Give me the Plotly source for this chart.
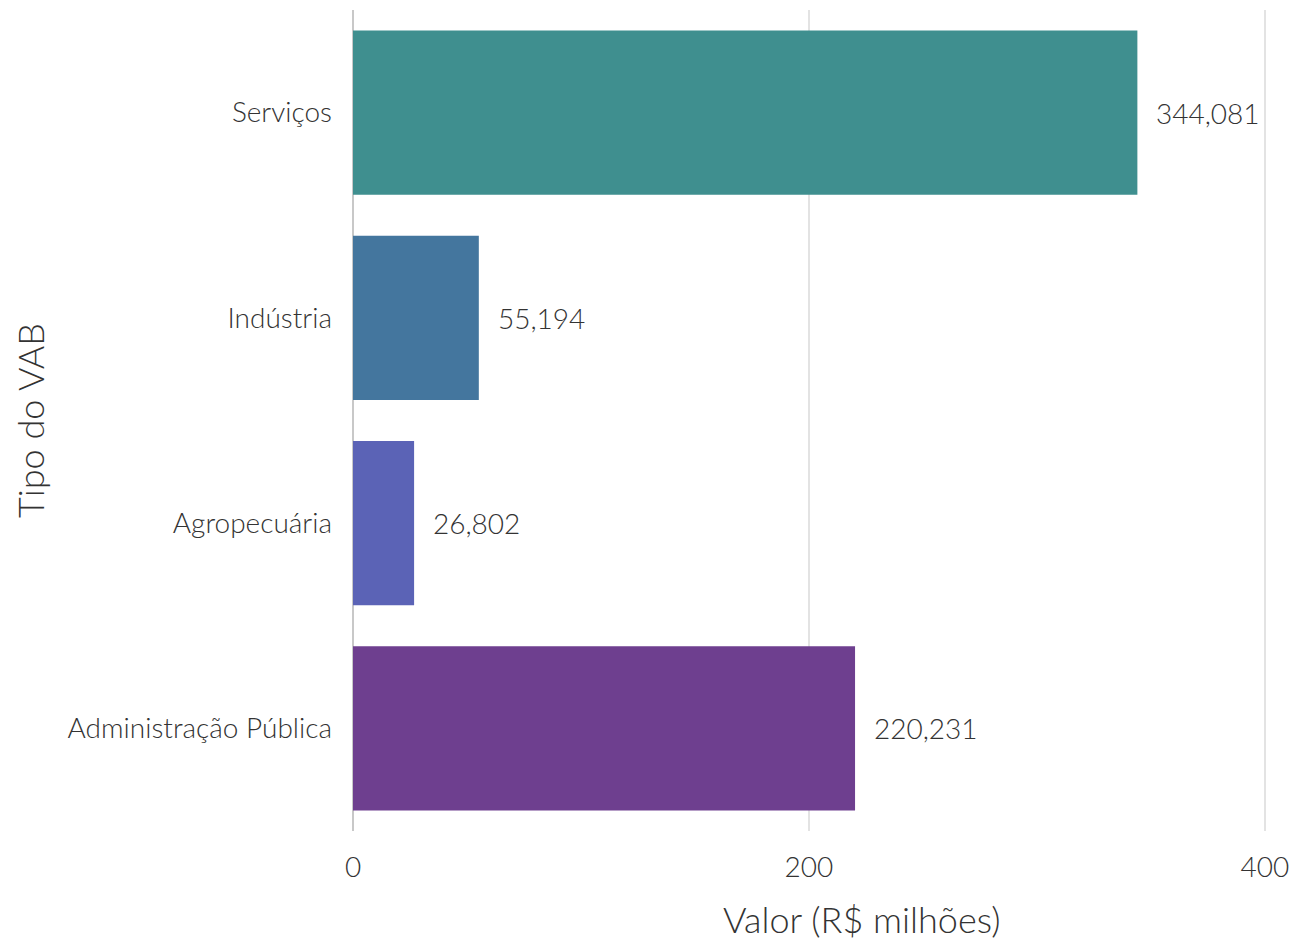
import plotly.graph_objects as go

categorias = ["Serviços", "Indústria", "Agropecuária", "Administração Pública"]
valores = [344.081, 55.194, 26.802, 220.231]
rotulos = ["344,081", "55,194", "26,802", "220,231"]
cores = ["#3F8F8F", "#44769E", "#5B63B6", "#6E3F8F"]

FONT = "Lato"
COR_TEXTO = "#333333"

fig = go.Figure()
fig.add_trace(go.Bar(
    x=valores, y=categorias, orientation="h",
    marker=dict(color=cores, line=dict(width=0)),
    width=0.8, hoverinfo="x+y", showlegend=False,
))

for v, c, t in zip(valores, categorias, rotulos):
    fig.add_annotation(x=v, y=c, text=t, xanchor="left", yanchor="middle",
                       xshift=17, showarrow=False,
                       font=dict(family=FONT, size=28, color=COR_TEXTO, weight=300))

# x-axis title (placed slightly right of plot centre, as in the reference)
fig.add_annotation(xref="paper", yref="paper", x=0.5575, y=0, yshift=-88,
                   xanchor="center", yanchor="middle", showarrow=False,
                   text="Valor (R$ milhões)",
                   font=dict(family=FONT, size=36, color=COR_TEXTO, weight=300))

fig.update_layout(
    width=1301, height=941,
    margin=dict(l=345, r=43, t=2, b=118),
    paper_bgcolor="white", plot_bgcolor="white",
    font=dict(family=FONT, weight=300, color=COR_TEXTO),
    bargap=0.2,
    xaxis=dict(
        range=[0, 400.5], tickvals=[0, 200, 400], ticktext=["0", "200", "400"],
        showgrid=True, gridcolor="#e3e3e3", gridwidth=2,
        zeroline=True, zerolinecolor="#c8c8c8", zerolinewidth=2,
        showline=False, ticks="", ticklabelstandoff=17,
        tickfont=dict(family=FONT, size=28, color=COR_TEXTO, weight=300),
    ),
    yaxis=dict(
        categoryorder="array", categoryarray=categorias[::-1],
        showgrid=False, zeroline=False, showline=False, ticks="",
        ticklabelstandoff=20,
        tickfont=dict(family=FONT, size=28, color=COR_TEXTO, weight=300),
        title=dict(text="Tipo do VAB", standoff=25,
                   font=dict(family=FONT, size=36, color=COR_TEXTO, weight=300)),
    ),
)

fig.write_html("out.html")
